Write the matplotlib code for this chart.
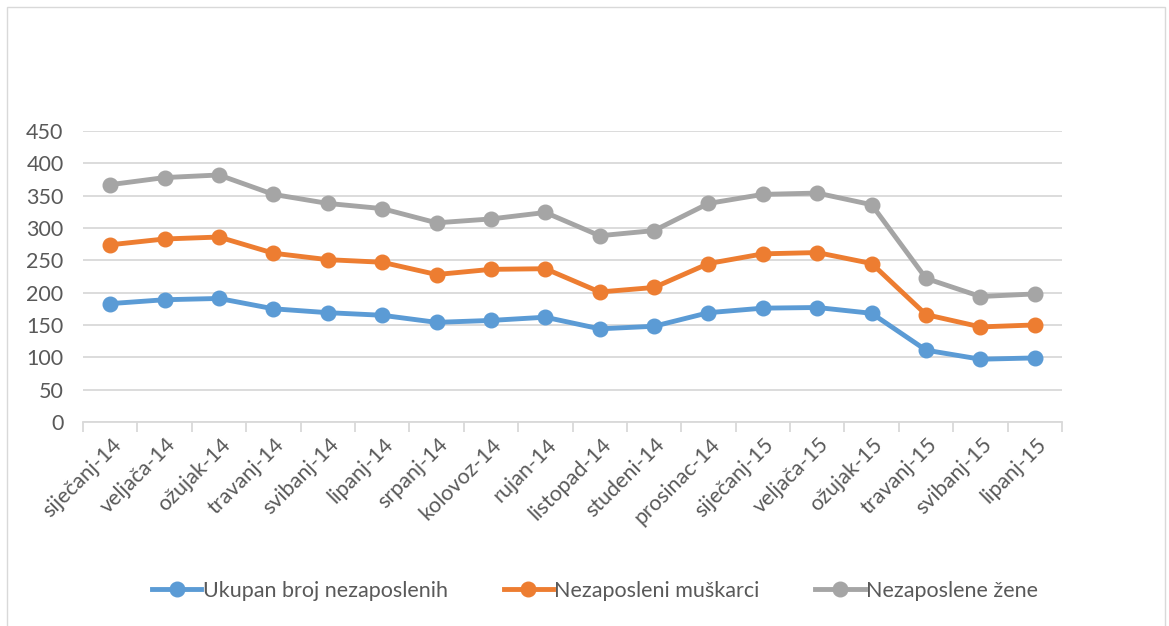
import matplotlib.pyplot as plt
import matplotlib.transforms as mtransforms
from matplotlib.patches import Rectangle

# data
months = ['siječanj-14', 'veljača-14', 'ožujak-14', 'travanj-14', 'svibanj-14', 'lipanj-14',
          'srpanj-14', 'kolovoz-14', 'rujan-14', 'listopad-14', 'studeni-14', 'prosinac-14',
          'siječanj-15', 'veljača-15', 'ožujak-15', 'travanj-15', 'svibanj-15', 'lipanj-15']
ukupno = [183, 189, 191, 175, 169, 165, 154, 157, 162, 144, 148, 169, 176, 177, 168, 111, 97, 99]
muskarci = [274, 283, 286, 261, 251, 247, 228, 236, 237, 201, 208, 245, 260, 262, 245, 166, 147, 150]
zene = [367, 378, 382, 352, 338, 330, 308, 314, 324, 288, 296, 338, 352, 354, 336, 222, 194, 198]

plt.rcParams['font.family'] = ['Lato', 'DejaVu Sans']
text_color = '#595959'
grid_color = '#d9d9d9'
fs = 15.5

fig = plt.figure(figsize=(11.69, 6.26), dpi=100)
ax = fig.add_axes([0.071, 0.326, 0.8375, 0.4647])

x = list(range(len(months)))
ax.plot(x, ukupno, color='#5b9bd5', lw=3.5, marker='o', ms=10.5, label='Ukupan broj nezaposlenih', zorder=3)
ax.plot(x, muskarci, color='#ed7d31', lw=3.5, marker='o', ms=10.5, label='Nezaposleni muškarci', zorder=3)
ax.plot(x, zene, color='#a5a5a5', lw=3.5, marker='o', ms=10.5, label='Nezaposlene žene', zorder=3)

ax.set_ylim(0, 450)
ax.set_xlim(-0.5, len(months) - 0.5)
ax.set_yticks(range(0, 451, 50))
ax.grid(axis='y', color=grid_color, lw=1.3)
ax.set_axisbelow(True)

for s in ['top', 'right', 'left']:
    ax.spines[s].set_visible(False)
ax.spines['bottom'].set_color(grid_color)
ax.spines['bottom'].set_linewidth(1.3)

ax.set_xticks(x)
ax.set_xticklabels(months, rotation=45, ha='right', va='center', rotation_mode='anchor',
                   fontsize=fs, color=text_color)
ax.set_xticks([i - 0.5 for i in range(len(months) + 1)], minor=True)
ax.tick_params(axis='x', which='major', length=0, pad=14)
ax.tick_params(axis='x', which='minor', length=7, color=grid_color, width=1.3)
ax.tick_params(axis='y', length=0, labelsize=fs, labelcolor=text_color, pad=14)

# nudge the rotated labels a bit to the right
offset = mtransforms.ScaledTranslation(8 / 100, 0, fig.dpi_scale_trans)
for lbl in ax.get_xticklabels():
    lbl.set_transform(lbl.get_transform() + offset)

leg = fig.legend(loc='center', bbox_to_anchor=(0.509, 0.056), ncol=3, frameon=False,
                 fontsize=fs, handlelength=2.3, columnspacing=2.6, handletextpad=0.05)
for t in leg.get_texts():
    t.set_color(text_color)

fig.patches.append(Rectangle((0.006, -0.02), 0.991, 1.009, transform=fig.transFigure,
                             fill=False, edgecolor=grid_color, lw=1))

plt.savefig('out.png', dpi=100)
